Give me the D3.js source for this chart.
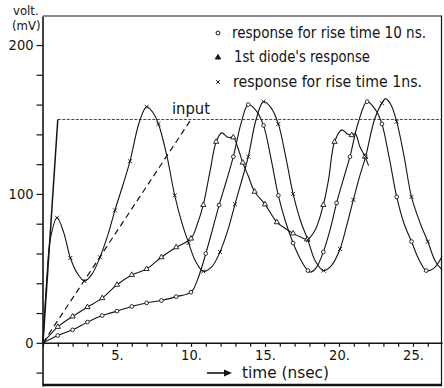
<!DOCTYPE html>
<html>
<head>
<meta charset="utf-8">
<script src="https://cdn.jsdelivr.net/npm/d3@7"></script>
<style>
  body { margin: 0; background: #fff; }
  svg { display: block; }
  text { font-family: "Liberation Sans Narrow", "DejaVu Sans Condensed", "Liberation Sans", sans-serif; fill: #141414; }
</style>
</head>
<body>
<script>
const width = 444;
const height = 388;
const margins = { left: 43, right: 2, top: 16, bottom: 2 };

// axes
const timeDomain = [0, 26.96];
const voltDomain = [-29, 219.5];
const xTickValues = d3.range(0, 27, 1);
const xTickLabels = [5, 10, 15, 20, 25];
const yTickValues = d3.range(-20, 201, 20);
const yTickLabels = [0, 100, 200];

// input pulses [t (ns), mV]
const inputStep = [[0, 0], [1, 150]];
const inputPlateau = [[1, 150], [26.96, 150]];
const inputRamp = [[0, 0], [10, 150]];

// responses [t (ns), mV, measured point shown with a symbol]
const rise10ns = [
  [0, 0, 0], [1, 4.9, 1], [2, 8.7, 1], [3, 13.9, 1], [4, 18.3, 1], [5, 21.3, 1], [6, 24.4, 1],
  [7, 26.8, 1], [8, 28.4, 1], [9, 31, 1], [10, 34, 1], [10.5, 44, 0], [11, 60, 1], [11.45, 76, 0],
  [11.9, 92.5, 1], [12.4, 109, 0], [12.86, 125, 1], [13.4, 148, 0], [13.87, 160, 1], [14.4, 156, 0],
  [14.9, 146, 1], [15.4, 124, 0], [15.9, 99, 1], [16.4, 81, 0], [16.9, 67, 1], [17.4, 56, 0],
  [17.9, 48.5, 1], [18.1, 47.5, 0], [18.5, 51, 0], [18.94, 61, 1], [19.4, 76, 0], [19.84, 94, 1],
  [20.3, 110, 0], [20.74, 125, 1], [21.3, 148, 0], [21.9, 162, 1], [22.5, 156, 0], [22.9, 147, 1],
  [23.4, 124, 0], [23.9, 98, 1], [24.4, 80, 0], [24.9, 68, 1], [25.4, 56, 0], [25.9, 48.5, 1],
  [26.4, 50, 0], [26.96, 58, 0]
];

const diode1 = [
  [0, 0, 0], [1, 10.7, 1], [2, 17.7, 1], [3, 24, 1], [4, 30, 1], [5, 39, 1], [6, 45.6, 1],
  [7, 49.6, 1], [8, 57.5, 1], [9, 64.2, 1], [10, 70, 1], [10.4, 79, 0], [10.83, 92.6, 1],
  [11.3, 116, 0], [11.7, 135, 1], [12.07, 141, 0], [12.5, 138, 0], [12.86, 138, 1], [13.2, 130, 0],
  [13.5, 121, 1], [13.87, 112, 0], [14.3, 101.5, 1], [15.0, 93, 1], [15.8, 81, 1], [16.35, 77, 0],
  [16.9, 73.5, 1], [17.4, 71, 0], [17.85, 69.5, 1], [18.4, 76, 0], [18.94, 92.6, 1], [19.3, 110, 0],
  [19.7, 135, 1], [20.2, 143, 0], [20.6, 140, 0], [20.86, 139.5, 1], [21.1, 140.5, 0], [21.4, 132, 0],
  [21.76, 125, 1], [22.0, 119, 0]
];

const rise1ns = [
  [0, 0, 0], [0.25, 42, 0], [0.5, 70, 0], [0.95, 84, 1], [1.4, 74, 0], [1.85, 57, 1], [2.3, 47, 0],
  [2.8, 41.5, 1], [3.3, 46, 0], [3.85, 57.5, 1], [4.4, 73, 0], [4.86, 89, 1], [5.4, 106, 0],
  [5.88, 122, 1], [6.5, 148, 0], [7.0, 158.5, 1], [7.4, 155, 0], [7.8, 147, 1], [8.36, 126, 0],
  [8.9, 99, 1], [9.4, 80, 0], [9.84, 67, 1], [10.3, 55, 0], [10.83, 48, 1], [11.4, 51, 0],
  [11.96, 61, 1], [12.5, 76, 0], [12.97, 93, 1], [13.4, 108, 0], [13.87, 125, 1], [14.4, 150, 0],
  [14.9, 162, 1], [15.4, 158, 0], [15.9, 147, 1], [16.4, 125, 0], [16.9, 100, 1], [17.4, 82, 0],
  [17.9, 69, 1], [18.4, 55, 0], [18.96, 48.5, 1], [19.5, 52, 0], [20.07, 63, 1], [20.5, 78, 0],
  [20.97, 96, 1], [21.4, 112, 0], [21.8, 125, 1], [22.4, 150, 0], [22.9, 161, 1], [23.15, 164, 0],
  [23.5, 160, 0], [23.9, 148.5, 1], [24.4, 125, 0], [24.9, 98, 1], [25.5, 80, 0], [26.0, 68, 1],
  [26.5, 55, 0], [26.96, 49, 0]
];

const legendLabels = ['response for rise time 10 ns.', "1st diode's response", 'response for rise time 1ns.'];
const yTitle = ['volt.', '(mV)'];
const xTitle = 'time (nsec)';
const inputLabel = 'input';

const ink = '#141414';

const svg = d3.select('body').append('svg')
    .attr('width', width)
    .attr('height', height);

const xScale = d3.scaleLinear()
    .domain(timeDomain)
    .range([margins.left, width - margins.right]);

const yScale = d3.scaleLinear()
    .domain(voltDomain)
    .range([height - margins.bottom, margins.top]);

// frame
const frame = svg.append('g')
    .attr('stroke', ink)
    .attr('fill', 'none');
frame.append('path')
    .attr('stroke-width', 1.2)
    .attr('d', `M${xScale(0)},${yScale(voltDomain[1])}H${xScale(timeDomain[1]) - 0.5}V${yScale(voltDomain[0])}`);
frame.append('path')
    .attr('stroke-width', 2.5)
    .attr('d', `M${xScale(0)},${yScale(voltDomain[0]) - 1}H${xScale(timeDomain[1])}`);

// axes
const xAxis = d3.axisBottom(xScale)
    .tickValues(xTickValues)
    .tickSize(4)
    .tickSizeOuter(0)
    .tickPadding(3)
    .tickFormat(d => xTickLabels.includes(d) ? `${d}.` : '');

const yAxis = d3.axisLeft(yScale)
    .tickValues(yTickValues)
    .tickSize(6)
    .tickSizeOuter(0)
    .tickPadding(3)
    .tickFormat(d => yTickLabels.includes(d) ? d : '');

const gx = svg.append('g')
    .attr('transform', `translate(0, ${yScale(0)})`)
    .call(xAxis);

const gy = svg.append('g')
    .attr('transform', `translate(${xScale(0) - 0.5}, 0)`)
    .call(yAxis);

[gx, gy].forEach(g => {
  g.selectAll('path, line').attr('stroke', ink).attr('stroke-width', 1.2);
  g.selectAll('text')
      .attr('font-family', null)
      .attr('font-size', 14.5)
      .attr('fill', ink);
});
gx.select('.domain').attr('stroke-width', 1.4);
gy.select('.domain').attr('stroke-width', 1.6);

// axis titles
svg.append('text')
    .attr('x', 13).attr('y', 15)
    .attr('font-size', 13)
    .text(yTitle[0]);
svg.append('text')
    .attr('x', 12).attr('y', 30)
    .attr('font-size', 13)
    .text(yTitle[1]);

svg.append('path')
    .attr('d', 'M207,373H227')
    .attr('stroke', ink)
    .attr('stroke-width', 1.6);
svg.append('path')
    .attr('d', 'M232,373L224,369.5L224,376.5Z')
    .attr('fill', ink);
svg.append('text')
    .attr('x', 242).attr('y', 378)
    .attr('font-size', 15)
    .attr('textLength', 87)
    .attr('lengthAdjust', 'spacingAndGlyphs')
    .text(xTitle);

// curves
const line = d3.line()
    .x(d => xScale(d[0]))
    .y(d => yScale(d[1]));

const smooth = d3.line()
    .x(d => xScale(d[0]))
    .y(d => yScale(d[1]))
    .curve(d3.curveCatmullRom.alpha(0.5));

const chart = svg.append('g')
    .attr('fill', 'none');

chart.append('path')
    .datum(inputPlateau)
    .attr('stroke', '#444')
    .attr('stroke-width', 1)
    .attr('stroke-dasharray', '3,1.5')
    .attr('d', line);

chart.append('path')
    .datum(inputStep)
    .attr('stroke', ink)
    .attr('stroke-width', 1.5)
    .attr('d', line);

chart.append('path')
    .datum(inputRamp)
    .attr('stroke', ink)
    .attr('stroke-width', 1.2)
    .attr('stroke-dasharray', '6,4')
    .attr('d', line);

svg.append('text')
    .attr('x', 172).attr('y', 114)
    .attr('font-size', 15)
    .attr('textLength', 38)
    .attr('lengthAdjust', 'spacingAndGlyphs')
    .text(inputLabel);

const series = [
  { data: rise10ns, symbol: d3.symbolCircle, size: 11, fill: '#fff' },
  { data: diode1, symbol: d3.symbolTriangle, size: 12, fill: '#fff' },
  { data: rise1ns, symbol: d3.symbolTimes || d3.symbolCross, size: 12, fill: 'none' }
];

series.forEach(s => {
  chart.append('path')
      .datum(s.data)
      .attr('stroke', ink)
      .attr('stroke-width', 1.1)
      .attr('d', smooth);
});

series.forEach(s => {
  svg.append('g')
    .selectAll('path')
    .data(s.data.filter(d => d[2]))
    .join('path')
      .attr('transform', d => `translate(${xScale(d[0])}, ${yScale(d[1])})`)
      .attr('d', d3.symbol(s.symbol, s.size))
      .attr('fill', s.fill)
      .attr('stroke', ink)
      .attr('stroke-width', 0.9);
});

// legend
const legendX = [232, 234, 233];
const legendY = [37.5, 62, 86.5];
const legendWidth = [194, 136, 189];
const legendSymbols = [
  { symbol: d3.symbolCircle, size: 12, fill: '#fff' },
  { symbol: d3.symbolTriangle, size: 12, fill: ink },
  { symbol: d3.symbolTimes || d3.symbolCross, size: 10, fill: 'none' }
];

const legend = svg.append('g');
legendLabels.forEach((label, i) => {
  legend.append('path')
      .attr('transform', `translate(218, ${legendY[i] - 4.5})`)
      .attr('d', d3.symbol(legendSymbols[i].symbol, legendSymbols[i].size))
      .attr('fill', legendSymbols[i].fill)
      .attr('stroke', ink)
      .attr('stroke-width', 1);
  legend.append('text')
      .attr('x', legendX[i])
      .attr('y', legendY[i])
      .attr('font-size', 15)
      .attr('textLength', legendWidth[i])
      .attr('lengthAdjust', 'spacingAndGlyphs')
      .text(label);
});
</script>
</body>
</html>
